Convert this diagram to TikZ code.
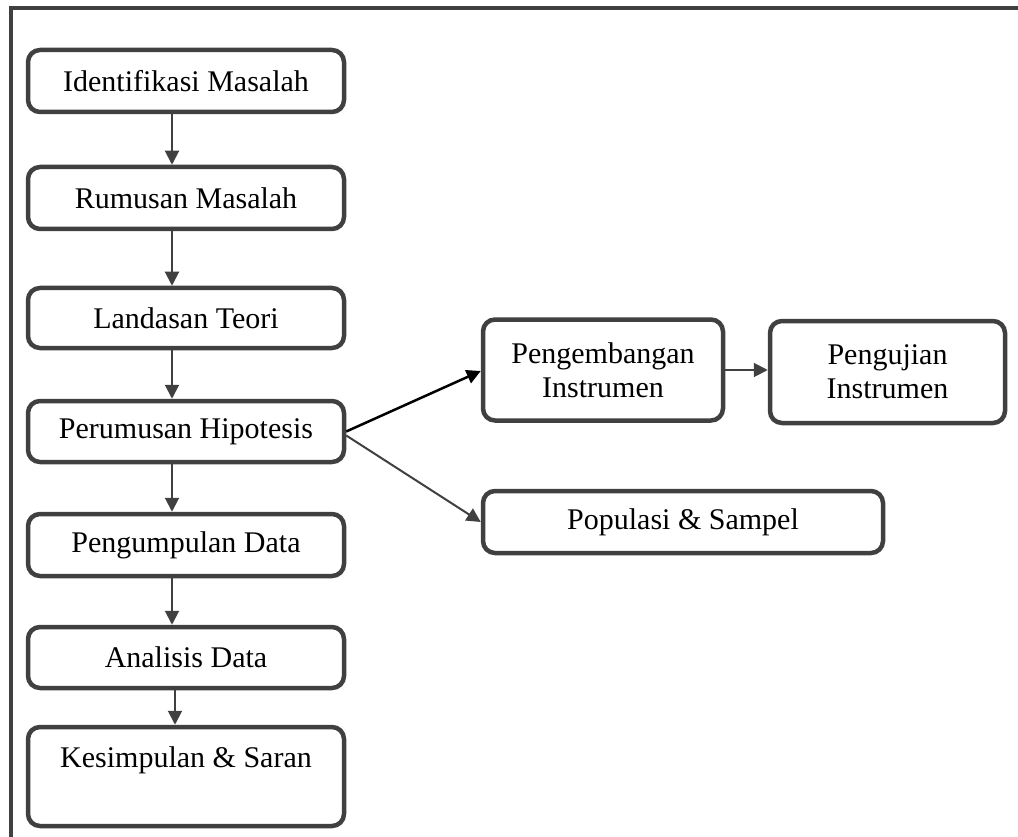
\documentclass[tikz,border=0pt]{standalone}
\usepackage{fontspec}
\setmainfont{Liberation Serif}
\usetikzlibrary{arrows.meta}
\definecolor{dg}{HTML}{404040}
\tikzset{
  stepbox/.style={draw=dg, line width=4.5pt, rounded corners=12pt, inner sep=0pt,
    align=center, font=\fontsize{30}{34}\selectfont},
  arr/.style={draw=dg, line width=2pt, -{Triangle[length=14pt,width=14pt]}},
  arrb/.style={draw=black, line width=2.5pt, -{Triangle[length=14pt,width=14pt]}},
  frame/.style={draw=dg, line width=4.5pt}
}
\begin{document}
\begin{tikzpicture}[x=1pt,y=-1pt]
\useasboundingbox (0,0) rectangle (1018,837);
\clip (0,0) rectangle (1018,837);
\draw[frame] (11,845) -- (11,8) -- (1030,8);

\node[stepbox, minimum width=316pt, minimum height=62pt] (b1) at (186,81) {Identifikasi Masalah};
\node[stepbox, minimum width=316pt, minimum height=62pt] (b2) at (186,198) {Rumusan Masalah};
\node[stepbox, minimum width=316pt, minimum height=60pt] (b3) at (186,318) {Landasan Teori};
\node[stepbox, minimum width=316pt, minimum height=61pt] (b4) at (186,431.5) {Perumusan Hipotesis};
\node[stepbox, minimum width=316pt, minimum height=62pt] (b5) at (186,545) {Pengumpulan Data};
\node[stepbox, minimum width=316pt, minimum height=61pt] (b6) at (186,657.5) {Analisis Data};
\node[stepbox, minimum width=316pt, minimum height=99pt] (b7) at (186,776.5) {Kesimpulan \& Saran\\[-6pt]\strut};

\node[stepbox, minimum width=240pt, minimum height=101pt] (pe) at (603,370) {Pengembangan\\Instrumen};
\node[stepbox, minimum width=235pt, minimum height=102pt] (pu) at (887.5,372) {Pengujian\\Instrumen};
\node[stepbox, minimum width=400pt, minimum height=62pt] (ps) at (683,522) {Populasi \& Sampel};

\draw[arr] ([xshift=-14pt]b1.south) -- ([xshift=-14pt]b2.north);
\draw[arr] ([xshift=-14pt]b2.south) -- ([xshift=-14pt]b3.north);
\draw[arr] ([xshift=-14pt]b3.south) -- ([xshift=-14pt]b4.north);
\draw[arr] ([xshift=-14pt]b4.south) -- ([xshift=-14pt]b5.north);
\draw[arr] ([xshift=-14pt]b5.south) -- ([xshift=-14pt]b6.north);
\draw[arr] ([xshift=-11pt]b6.south) -- ([xshift=-11pt]b7.north);

\draw[arrb] (b4.east) -- ([yshift=-1pt]pe.west);
\draw[arr] ([yshift=-4pt]b4.east) -- (ps.west);
\draw[arr] (pe.east) -- (pe.east -| pu.west);
\end{tikzpicture}
\end{document}
